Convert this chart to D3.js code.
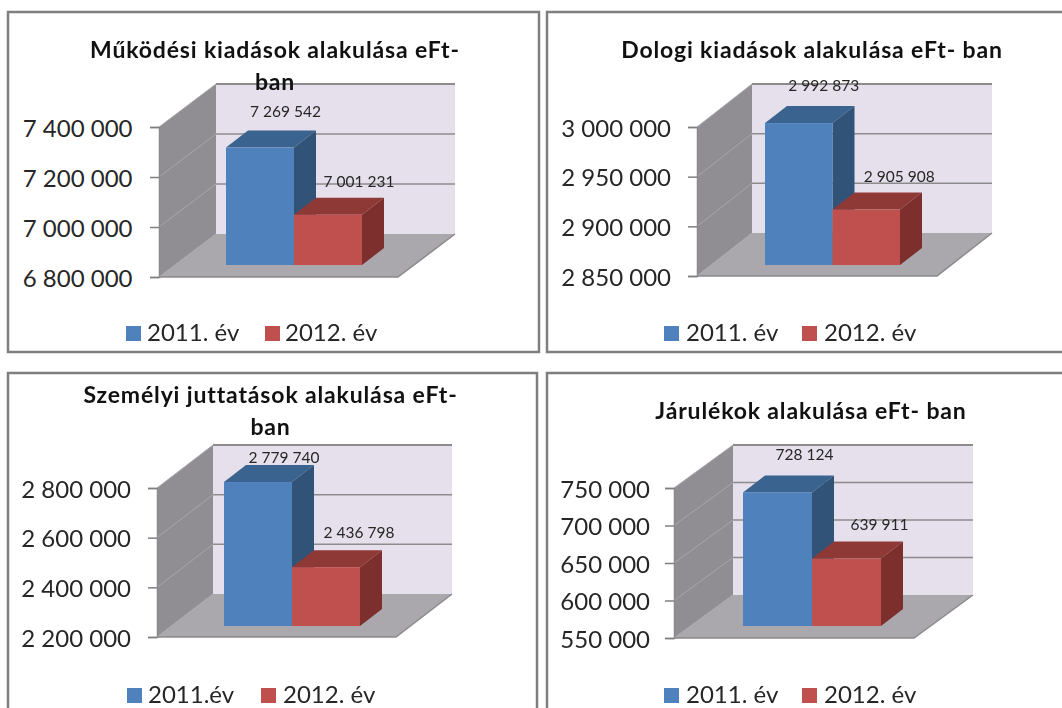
<!DOCTYPE html>
<html><head><meta charset="utf-8">
<script src="https://cdn.jsdelivr.net/npm/d3@7"></script>
<style>html,body{margin:0;padding:0;background:#fff;overflow:hidden}svg{display:block;filter:blur(0.45px)}text{font-family:Lato,"Open Sans",sans-serif}</style>
</head><body><svg id="c" width="1062" height="708"></svg>
<script>
const titles = [["Működési kiadások alakulása eFt-","ban"],["Dologi kiadások alakulása eFt- ban"],["Személyi juttatások alakulása eFt-","ban"],["Járulékok alakulása eFt- ban"]];
const values2011 = [7269542, 2992873, 2779740, 728124];
const values2012 = [7001231, 2905908, 2436798, 639911];
const ticksA = [6800000, 7000000, 7200000, 7400000];
const ticksB = [2850000, 2900000, 2950000, 3000000];
const ticksC = [2200000, 2400000, 2600000, 2800000];
const ticksD = [550000, 600000, 650000, 700000, 750000];
const legends = [["2011. év","2012. év"],["2011. év","2012. év"],["2011.év","2012. év"],["2011. év","2012. év"]];

const layout = [
 {frame:[8,12,531,340],left:159,right:398,dx:57,top:127,bot:277,base:265,bars:[226,362],tx:275,ty:[58,90],lab:[[25.5,-31],[31,-28]],leg:[126,147,265,285],legY:341,ticks:ticksA,pad:17.5},
 {frame:[547,12,530,340],left:697,right:937,dx:55,top:127,bot:276,base:265,bars:[765,900],tx:812,ty:[58],lab:[[25,-32],[33,-27]],leg:[664,686,802,824],legY:341,ticks:ticksB,pad:17},
 {frame:[8,373,529,350],left:157,right:396,dx:56,top:488,bot:637,base:626,bars:[224,360],tx:270.5,ty:[403,435],lab:[[26,-19],[33,-29]],leg:[127,148,261,283],legY:703,ticks:ticksC,pad:17},
 {frame:[547,373,530,350],left:674,right:914,dx:59,top:488,bot:638,base:626,bars:[743,881],tx:811,ty:[419],lab:[[27,-32],[33,-29]],leg:[664,686,802,824],legY:703,ticks:ticksD,pad:15}
];
const dy=-43, barDx=22, barDy=-17;
const colors={blue:{front:"#4f81bd",top:"#3b6390",side:"#325378"},red:{front:"#c0504d",top:"#8f3937",side:"#7c2f2d"}};
const fmt=d3.formatLocale({decimal:",",thousands:" ",grouping:[3],currency:["",""]}).format(",d");
const svg=d3.select("#c");
const line=d3.line();
const poly=(g,pts,fill)=>g.append("path").attr("d",line(pts)+"Z").attr("fill",fill);

layout.forEach((p,i)=>{
  const g=svg.append("g");
  g.append("rect").attr("x",p.frame[0]).attr("y",p.frame[1]).attr("width",p.frame[2]).attr("height",p.frame[3])
   .attr("fill","#fff").attr("stroke","#7f7f7f").attr("stroke-width",2.5);
  const t=p.ticks, y=d3.scaleLinear().domain([t[0],t[t.length-1]]).range([p.bot,p.top]);
  const L=p.left,R=p.right,T=p.top,B=p.bot,dx=p.dx;
  poly(g,[[L+dx,T+dy],[R+dx,T+dy],[R+dx,B+dy],[L+dx,B+dy]],"#e6e0ec");
  poly(g,[[L,T],[L+dx,T+dy],[L+dx,B+dy],[L,B]],"#908e93");
  poly(g,[[L,B],[L+dx,B+dy],[R+dx,B+dy],[R,B]],"#aaa8ad");
  t.forEach(v=>{
    const yy=y(v);
    g.append("path").attr("d",line([[L,yy],[L+dx,yy+dy]])).attr("stroke","#a9a7ac").attr("stroke-width",1).attr("fill","none");
    if(v!==t[0]) g.append("path").attr("d",line([[L+dx,yy+dy],[R+dx,yy+dy]])).attr("stroke","#8c8c8c").attr("stroke-width",v===t[t.length-1]?2:1.5).attr("fill","none");
  });
  g.append("path").attr("d",line([[L,B],[R,B],[R+dx,B+dy]])).attr("stroke","#8a8a8a").attr("stroke-width",1.5).attr("fill","none");
  const ax=g.append("g").attr("transform",`translate(${L},0)`).call(d3.axisLeft(y).tickValues(t).tickSize(9).tickPadding(p.pad).tickFormat(fmt));
  ax.select(".domain").attr("stroke","#8a8a8a").attr("stroke-width",1.5);
  ax.selectAll(".tick line").attr("stroke","#7f7f7f").attr("stroke-width",1.5);
  ax.selectAll("text").attr("font-size",24).attr("font-family","Lato").attr("fill","#262626").attr("dy","0.38em");
  const series=[{k:"blue",v:values2011[i]},{k:"red",v:values2012[i]}];
  const x=d3.scaleBand().domain(series.map(d=>d.k)).range(p.bars);
  const bw=x.bandwidth();
  const barTop=v=>p.base-(p.bot-y(v));
  series.forEach((s,j)=>{
    const x0=x(s.k),x1=x0+bw,yT=barTop(s.v),c=colors[s.k];
    poly(g,[[x0,yT],[x0+barDx,yT+barDy],[x1+barDx,yT+barDy],[x1,yT]],c.top);
    poly(g,[[x1,yT],[x1+barDx,yT+barDy],[x1+barDx,p.base+barDy],[x1,p.base]],c.side);
    g.append("rect").attr("x",x0).attr("y",yT).attr("width",bw).attr("height",p.base-yT).attr("fill",c.front);
    g.append("text").attr("x",x0+bw/2+p.lab[j][0]).attr("y",yT+p.lab[j][1]).attr("text-anchor","middle").attr("font-size",15.5).attr("fill","#262626").text(fmt(s.v));
  });
  titles[i].forEach((tl,k)=>g.append("text").attr("x",p.tx).attr("y",p.ty[k]).attr("text-anchor","middle").attr("font-size",23).attr("letter-spacing",0.85).attr("font-weight",700).attr("fill","#111").text(tl));
  ["blue","red"].forEach((k,j)=>{
    g.append("rect").attr("x",p.leg[j*2]).attr("y",p.legY-15).attr("width",15).attr("height",15).attr("fill",colors[k].front);
    g.append("text").attr("x",p.leg[j*2+1]).attr("y",p.legY).attr("font-size",24).attr("fill","#262626").text(legends[i][j]);
  });
});
</script></body></html>
